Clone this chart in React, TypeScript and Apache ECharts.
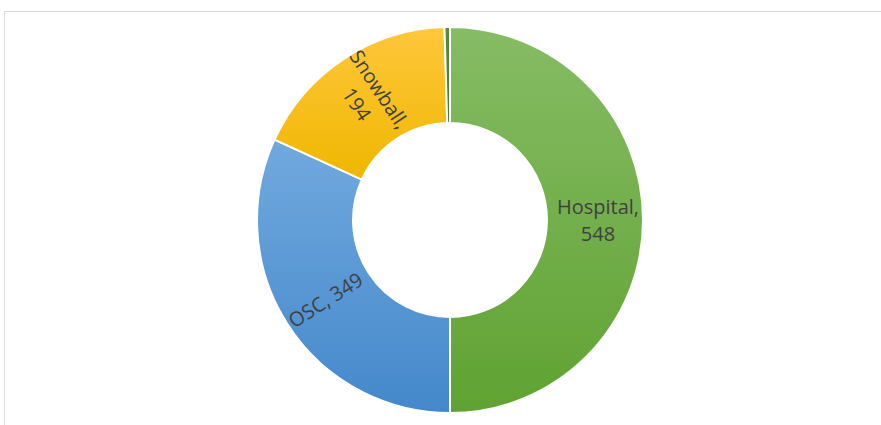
import React, { useEffect, useRef } from "react";
import * as echarts from "echarts";

const categories = ["Hospital", "OSC", "Snowball", "Other"];
const values = [548, 349, 194, 5];
const topColors = ["#86bc65", "#71a9de", "#ffc73c", "#5a8a3e"];
const bottomColors = ["#60a232", "#4488cb", "#efb700", "#4a7a30"];
const showLabel = [true, true, true, false];

export default function App() {
  const ref = useRef<HTMLDivElement>(null);
  useEffect(() => {
    if (!ref.current) return;
    const chart = echarts.init(ref.current, null, { renderer: "svg" });
    const cy = 220;
    const outer = 193;
    const data = categories.map((name, i) => ({
      name,
      value: values[i],
      itemStyle: {
        color: new echarts.graphic.LinearGradient(0, 0, 0, 1, [
          { offset: 0, color: topColors[i] },
          { offset: 1, color: bottomColors[i] },
        ], false),
      },
      label: { show: showLabel[i] },
    }));
    chart.setOption({
      animation: false,
      backgroundColor: "#ffffff",
      graphic: [
        {
          type: "rect",
          shape: { x: 4.5, y: 11.5, width: 900, height: 440 },
          style: { fill: "none", stroke: "#d9d9d9", lineWidth: 1 },
          z: -10,
        },
      ],
      series: [
        {
          type: "pie",
          center: [450, cy],
          radius: [97, outer],
          startAngle: 90,
          clockwise: true,
          data,
          itemStyle: { borderColor: "#ffffff", borderWidth: 2 },
          label: {
            show: true,
            position: "inside",
            rotate: "radial",
            formatter: (p: any) =>
              p.name === "Hospital" || p.name === "Snowball"
                ? `${p.name},\n${p.value}`
                : `${p.name}, ${p.value}`,
            fontFamily: "Open Sans, Liberation Sans, sans-serif",
            fontSize: 20,
            lineHeight: 27,
            color: "#404040",
          },
          labelLine: { show: false },
          emphasis: { disabled: true },
        },
      ],
    });
    return () => chart.dispose();
  }, []);
  return (
    <div
      ref={ref}
      style={{ position: "fixed", left: 0, top: 0, width: 881, height: 425 }}
    />
  );
}
